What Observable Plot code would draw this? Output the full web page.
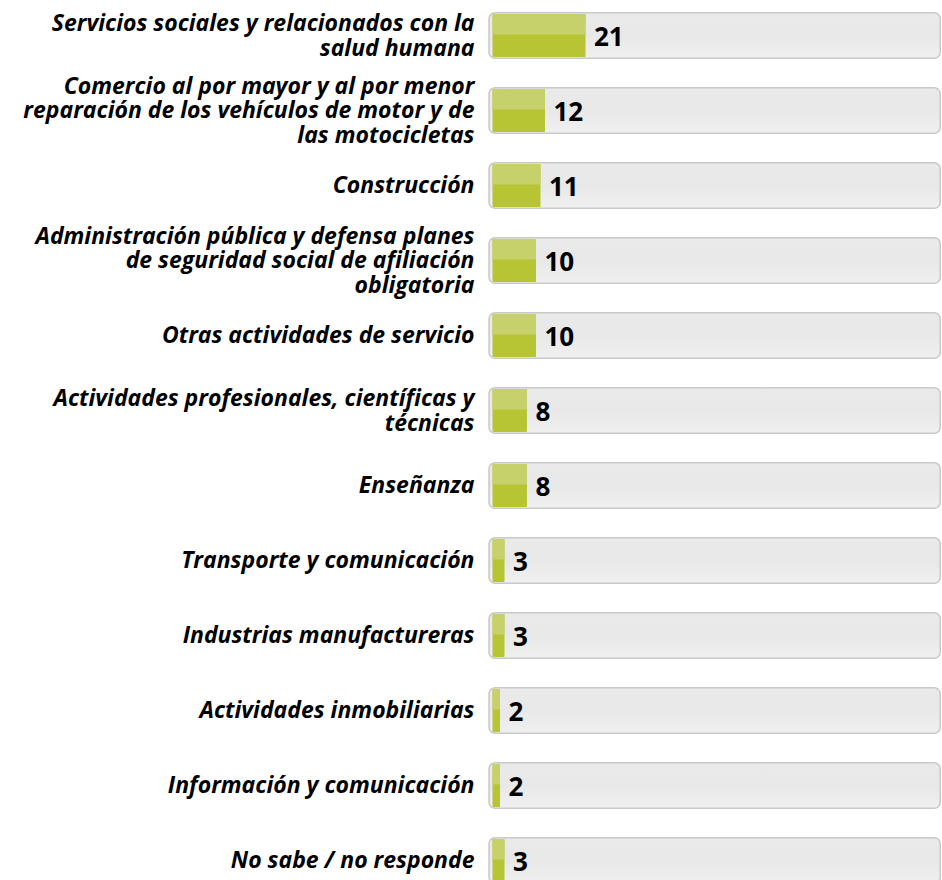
<!DOCTYPE html>
<html>
<head>
<meta charset="utf-8">
<script src="https://cdn.jsdelivr.net/npm/d3@7"></script>
<script src="https://cdn.jsdelivr.net/npm/@observablehq/plot@0.6"></script>
<style>
  html, body { margin: 0; padding: 0; background: #fff; overflow: hidden; }
  #chart svg { display: block; }
</style>
</head>
<body>
<div id="chart"></div>
<script>
const categories = [
  "Servicios sociales y relacionados con la\nsalud humana",
  "Comercio al por mayor y al por menor\nreparación de los vehículos de motor y de\nlas motocicletas",
  "Construcción",
  "Administración pública y defensa planes\nde seguridad social de afiliación\nobligatoria",
  "Otras actividades de servicio",
  "Actividades profesionales, científicas y\ntécnicas",
  "Enseñanza",
  "Transporte y comunicación",
  "Industrias manufactureras",
  "Actividades inmobiliarias",
  "Información y comunicación",
  "No sabe / no responde"
];
const values = [21, 12, 11, 10, 10, 8, 8, 3, 3, 2, 2, 3];
const trackMax = 100;

const data = categories.map((c, i) => ({category: c, value: values[i]}));

const font = "'Open Sans', Lato, sans-serif";

const chart = Plot.plot({
  width: 942,
  height: 890,
  marginTop: 10,
  marginBottom: 3.9,
  marginLeft: 491,
  marginRight: 1,
  style: {fontFamily: font, background: "#fff"},
  x: {domain: [0, trackMax], axis: null},
  y: {domain: categories, axis: null, paddingInner: 0.38, paddingOuter: 0},
  marks: [
    // track
    Plot.barX(data, {
      y: "category", x1: 0, x2: trackMax,
      fill: "url(#trackGrad)", stroke: "#c9c9c9", strokeWidth: 1.5,
      rx: 6, insetLeft: -2, insetRight: 0.75, insetTop: 0.75, insetBottom: 0.75
    }),
    // green bar (dark lower)
    Plot.barX(data, {
      y: "category", x1: 0, x2: "value",
      fill: "#b7c434", insetTop: 2, insetBottom: 2, insetLeft: 1.5, rx: 1
    }),
    // green bar (light upper)
    Plot.barX(data, {
      y: "category", x1: 0, x2: "value",
      fill: "#c7d16c", insetTop: 2, insetBottom: 24.5, insetLeft: 1.5, rx: 1
    }),
    // value labels
    Plot.text(data, {
      y: "category", x: "value", text: d => String(d.value),
      textAnchor: "start", dx: 8, dy: 1.5,
      fontSize: 26, fontWeight: "bold", fill: "#000"
    }),
    // category labels
    Plot.text(data, {
      y: "category", x: 0, text: "category",
      textAnchor: "end", dx: -17, dy: -0.5,
      fontSize: 23, fontWeight: "bold", fontStyle: "italic",
      lineHeight: 1.06, fill: "#000"
    })
  ]
});

d3.select(chart).insert("defs", ":first-child").html(`
  <linearGradient id="trackGrad" x1="0" y1="0" x2="0" y2="1">
    <stop offset="0" stop-color="#eaeaea"/>
    <stop offset="0.5" stop-color="#e8e8e8"/>
    <stop offset="1" stop-color="#f0f0f0"/>
  </linearGradient>
`);

document.getElementById("chart").appendChild(chart);
</script>
</body>
</html>
